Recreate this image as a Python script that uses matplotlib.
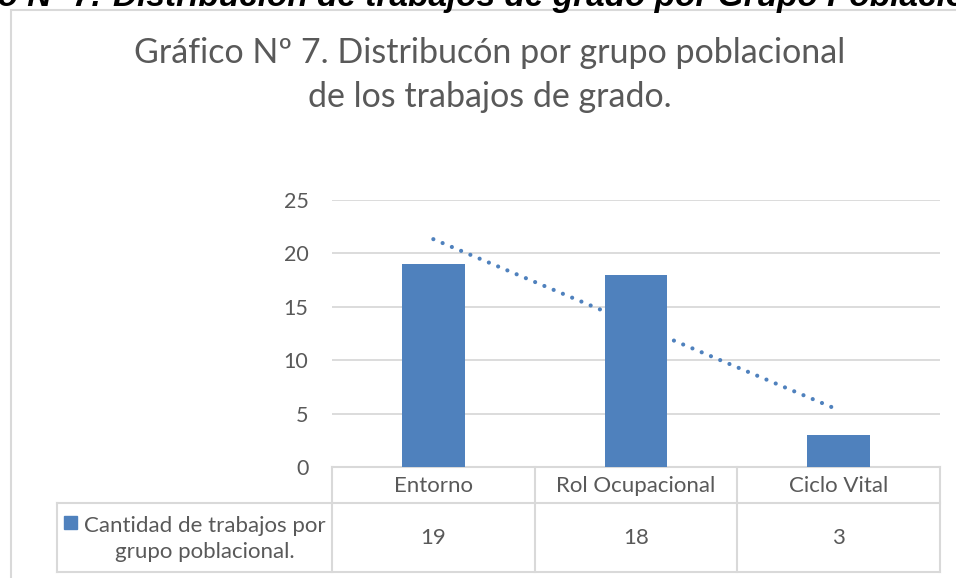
import matplotlib.pyplot as plt
from matplotlib.patches import Rectangle
import numpy as np

categories = ['Entorno', 'Rol Ocupacional', 'Ciclo Vital']
values = [19, 18, 3]
series_name = 'Cantidad de trabajos por\ngrupo poblacional.'
y_ticks = [0, 5, 10, 15, 20, 25]

title = 'Gráfico Nº 7. Distribucón por grupo poblacional\nde los trabajos de grado.'
caption_prefix = 'Gráfico Nº 7. '
caption = 'Distribución de trabajos de grado por Grupo Poblacional'

bar_color = '#4F81BD'
grid_color = '#D9D9D9'
text_color = '#595959'
font = 'Lato'

W, H = 956, 578
fig = plt.figure(figsize=(W / 100, H / 100), dpi=100)

# pixel helpers
def fx(px):
    return px / W

def fy(py):
    return 1 - py / H

# cut-off caption above the chart box
fig.text(fx(110), fy(6), caption_prefix, ha='right', va='baseline', fontsize=24,
         family='Liberation Sans', weight='bold', style='italic', color='black')
fig.text(fx(113), fy(6), caption, ha='left', va='baseline', fontsize=24,
         family='Liberation Sans', weight='bold', style='italic', color='black')

# chart border
fig.patches.append(Rectangle((fx(11), -0.05), 1.2, fy(10) + 0.05, transform=fig.transFigure,
                             fill=False, edgecolor=grid_color, lw=1.5))

fig.text(fx(490), fy(37), title, ha='center', va='top', fontsize=24.5, family=font,
         color=text_color, linespacing=1.47, multialignment='center')

ax_l, ax_r, ax_t, ax_b = 332, 940, 200, 467
ax = fig.add_axes([fx(ax_l), fy(ax_b), (ax_r - ax_l) / W, (ax_b - ax_t) / H])

x = np.arange(len(categories))
ax.bar(x, values, width=0.31, color=bar_color, zorder=3)

# linear trendline, passing behind the bars
coef = np.polyfit(x, values, 1)
ax.plot(x[[0, -1]], np.polyval(coef, x[[0, -1]]), color=bar_color, lw=3,
        linestyle=(0, (0.01, 2.4)), dash_capstyle='round', zorder=2.5)

ax.set_xlim(-0.5, len(categories) - 0.5)
ax.set_ylim(0, 25)
ax.set_yticks(y_ticks)
ax.set_xticks([])
ax.yaxis.grid(True, color=grid_color, lw=1.3)
ax.set_axisbelow(True)
for s in ax.spines.values():
    s.set_visible(False)
ax.tick_params(axis='y', length=0, pad=17, labelsize=15.5, labelcolor=text_color)
for lbl in ax.get_yticklabels():
    lbl.set_family(font)

# data table under the axis
ax_w, ax_h = ax_r - ax_l, ax_b - ax_t

def ax_x(px):
    return (px - ax_l) / ax_w

def ax_y(py):
    return (ax_b - py) / ax_h

row1, row2 = 503, 572
legend_left = 57
n = len(categories)
lk = dict(color=grid_color, lw=1.5, transform=ax.transAxes, clip_on=False)
ax.plot([0, 1], [0, 0], **lk)
ax.plot([ax_x(legend_left), 1], [ax_y(row1)] * 2, **lk)
ax.plot([ax_x(legend_left), 1], [ax_y(row2)] * 2, **lk)
for i in range(n + 1):
    ax.plot([i / n, i / n], [0, ax_y(row2)], **lk)
ax.plot([ax_x(legend_left)] * 2, [ax_y(row1), ax_y(row2)], **lk)

for i, (cat, val) in enumerate(zip(categories, values)):
    ax.text((i + 0.5) / n, ax_y((ax_b + row1) / 2 + 1), cat, transform=ax.transAxes,
            ha='center', va='center', fontsize=16, family=font, color=text_color)
    ax.text((i + 0.5) / n, ax_y((row1 + row2) / 2), str(val), transform=ax.transAxes,
            ha='center', va='center', fontsize=16, family=font, color=text_color)

ax.add_patch(Rectangle((ax_x(64), ax_y(529)), 13 / ax_w, 13 / ax_h, transform=ax.transAxes,
                       color=bar_color, clip_on=False))
ax.text(ax_x(205), ax_y(539), series_name, transform=ax.transAxes, ha='center', va='center',
        fontsize=16, family=font, color=text_color, multialignment='center', linespacing=1.35)

fig.savefig('out.png', dpi=100)
